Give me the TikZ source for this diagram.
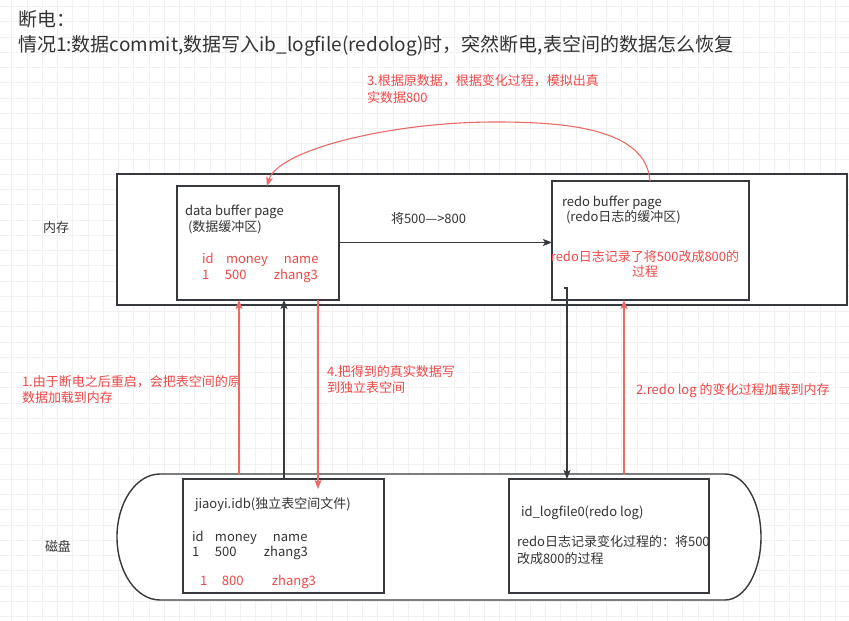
\documentclass[tikz,border=0pt]{standalone}
\usepackage{fontspec}
\setmainfont{Noto Sans CJK SC}
\usetikzlibrary{arrows.meta,calc}
\definecolor{ink}{HTML}{333333}
\definecolor{edge}{HTML}{36393D}
\definecolor{warn}{HTML}{F04848}
\definecolor{warnline}{HTML}{EA6B66}
\definecolor{gridc}{HTML}{F1F1F1}
% three columns of a table row set at fixed offsets
\newcommand{\rowtriple}[5]{\makebox[#1][l]{#3}\makebox[#2][l]{#4}#5}
\begin{document}
\begin{tikzpicture}[x=1pt,y=-1pt,
  box/.style={draw=edge, line width=1.4pt, fill=white, outer sep=0pt, inner sep=0pt, anchor=north west},
  txt/.style={anchor=base west, inner sep=0pt, outer sep=0pt, text=ink, font=\fontsize{13}{16}\selectfont},
  rtxt/.style={txt, text=warn},
  ctxt/.style={txt, anchor=base, text=warn},
  darrow/.style={draw=edge, line width=1.1pt, -{Stealth[length=9pt,width=7pt,inset=2pt]}},
  rarrow/.style={draw=warnline, line width=1.1pt, -{Stealth[length=9pt,width=7pt,inset=2pt]}},
]
\useasboundingbox (0,0) rectangle (849,621);
\fill[white] (0,0) rectangle (849,621);
% background grid
\foreach \i in {0,...,55} \draw[gridc, line width=0.9pt] ({11.75+15.25*\i},0) -- ++(0,621);
\foreach \j in {0,...,40} \draw[gridc, line width=0.9pt] (0,{6.5+15.25*\j}) -- ++(849,0);

% heading
\node[txt, font=\fontsize{19}{23}\selectfont] (t1) at (18,26) {断电：};
\node[txt, font=\fontsize{19}{23}\selectfont] (t2) at (18,51) {情况1:数据commit,数据写入ib\_logfile(redolog)时，突然断电,表空间的数据怎么恢复};

% memory layer
\node[box, minimum width=730pt, minimum height=131pt] (mem) at (117,174) {};
\node[box, minimum width=162pt, minimum height=114pt] (data) at (177,186) {};
\node[box, minimum width=197pt, minimum height=119pt] (redo) at (552,181) {};
\node[txt] (memlbl) at (43,232) {内存};

\node[txt] (d1) at (185,215.5) {data buffer page};
\node[txt] (d2) at (188,231) {(数据缓冲区)};
\node[rtxt] (d3) at (202,263) {\rowtriple{24pt}{58pt}{id}{money}{name}};
\node[rtxt] (d4) at (202,279) {\rowtriple{23pt}{49pt}{1}{500}{zhang3}};

\node[txt] (r1) at (562,206.5) {redo buffer page};
\node[txt] (r2) at (566,221.5) {(redo日志的缓冲区)};
\node[ctxt] (r3) at (645,261.5) {redo日志记录了将500改成800的};
\node[ctxt] (r4) at (645,276.5) {过程};

% disk layer
\draw[draw=edge, line width=1.4pt, fill=white] (160,474) -- (725,474)
  arc[start angle=90, end angle=-90, x radius=36pt, y radius=63pt] -- (160,600)
  arc[start angle=270, end angle=90, x radius=43pt, y radius=63pt] -- cycle;
\coordinate (disktop) at (160,474);
\node[box, minimum width=201pt, minimum height=114pt] (idb) at (183,479) {};
\node[box, minimum width=200pt, minimum height=114pt] (logf) at (509,479) {};
\node[txt] (disklbl) at (45,551) {磁盘};

\node[txt] (j1) at (195,508) {jiaoyi.idb(独立表空间文件)};
\node[txt] (j2) at (192,541) {\rowtriple{23pt}{58pt}{id}{money}{name}};
\node[txt] (j3) at (192,556) {\rowtriple{23pt}{49pt}{1}{500}{zhang3}};
\node[rtxt] (j4) at (200,585) {\rowtriple{22pt}{50pt}{1}{800}{zhang3}};

\node[txt] (g1) at (521,516) {id\_logfile0(redo log)};
\node[txt] (g2) at (517,546) {redo日志记录变化过程的：将500};
\node[txt] (g3) at (517,563) {改成800的过程};

% step labels
\node[rtxt] (s1a) at (22,386) {1.由于断电之后重启，会把表空间的原};
\node[rtxt] (s1b) at (22,402) {数据加载到内存};
\node[rtxt] (s2) at (636,394) {2.redo log 的变化过程加载到内存};
\node[rtxt] (s3a) at (367,85.5) {3.根据原数据，根据变化过程，模拟出真};
\node[rtxt] (s3b) at (367,102) {实数据800};
\node[rtxt] (s4a) at (327,376) {4.把得到的真实数据写};
\node[rtxt] (s4b) at (327,392) {到独立表空间};
\node[txt] (chg) at (391,223) {将500—>800};

% connectors
\coordinate (c1) at (239,474);
\draw[rarrow] (c1) -- (c1 |- data.south);
\coordinate (c2) at (284,0);
\draw[darrow] (c2 |- idb.north) -- (c2 |- data.south);
\coordinate (c3) at (318,0);
\draw[rarrow] (c3 |- data.south) -- ($(c3 |- idb.north)+(0,10)$);
\coordinate (c4) at (564,288);
\draw[darrow] (c4) -- ++(3,0) -- (567,0 |- logf.north);
\coordinate (c5) at (624,474);
\draw[rarrow] (c5) -- (c5 |- redo.south);
\coordinate (c6) at (0,242.5);
\draw[darrow] (c6 -| data.east) -- (c6 -| redo.west);
\coordinate (c7) at (650,0);
\coordinate (c8) at (267,0);
\draw[rarrow] (c7 |- redo.north) .. controls (646,128) and (565,122) .. (495,122)
  .. controls (390,122) and (278,150) .. (c8 |- data.north);
\end{tikzpicture}
\end{document}
